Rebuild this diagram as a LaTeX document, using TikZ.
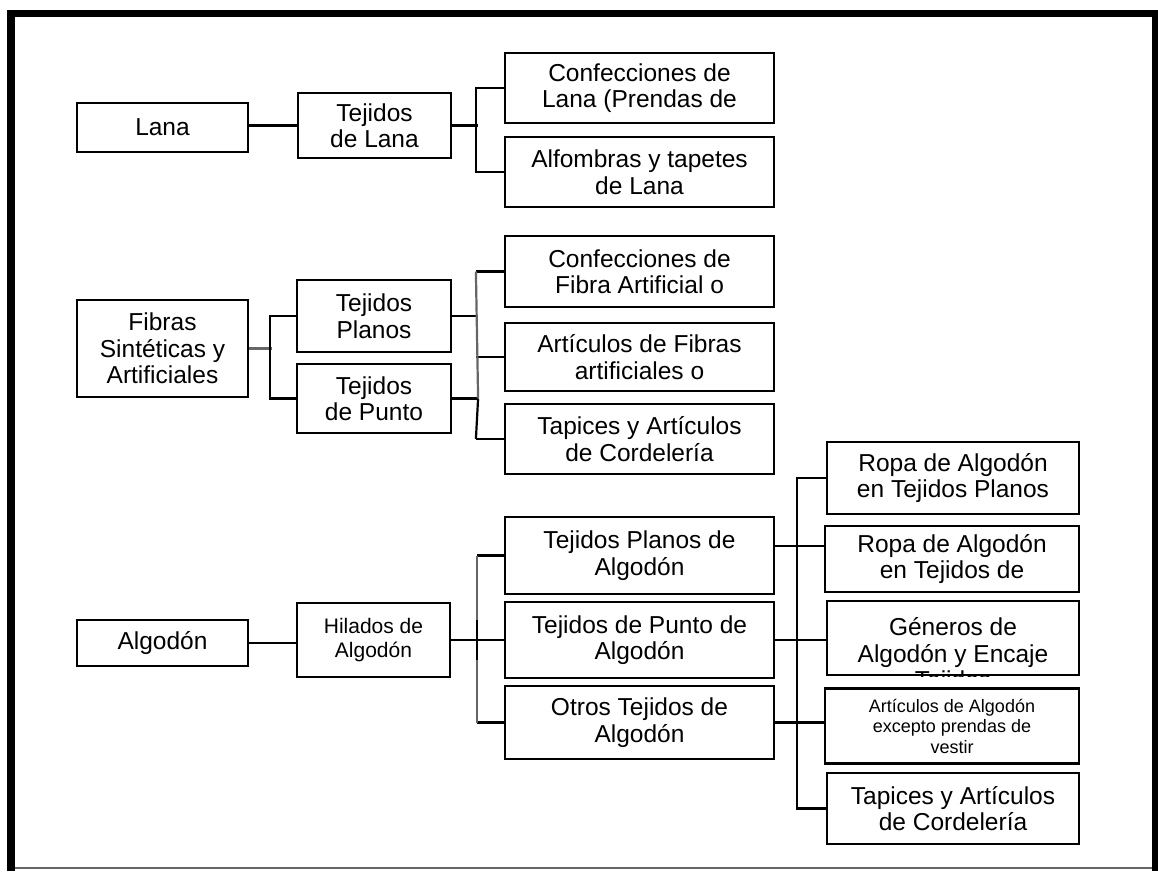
\documentclass[tikz,border=0pt]{standalone}
\usepackage{fontspec}
\setmainfont{Liberation Sans}
\begin{document}
\begin{tikzpicture}[x=1pt,y=-1pt,
  box/.style={draw=black, line width=2.2pt, inner sep=0pt, align=center,
    font=\fontsize{24.5}{26.5}\selectfont},
  wh/.style 2 args={minimum width=#1pt, minimum height=#2pt},
  link/.style={draw=black, line width=2.2pt},
  glink/.style={draw=black!60, line width=2.2pt}]
\useasboundingbox (0,0) rectangle (1158,871);
\fill[white] (0,0) rectangle (1158,871);
% frame
\fill[black] (7,10) rectangle (1158,17);
\fill[black] (7,10) rectangle (15,871);
\fill[black] (1152,10) rectangle (1158,871);
\draw[black!60, line width=1.5pt] (15,868) -- (1152,868);

% Lana group
\node[box, wh={171}{49}] (lana) at (162.5,127.5) {Lana};
\node[box, wh={153}{65}] (tlana) at (374.5,125.5) {Tejidos\\de Lana};
\node[box, wh={269}{70}] (clana) at (639.5,88) {Confecciones de\\Lana (Prendas de};
\node[box, wh={269}{70}] (alf) at (639.5,172) {Alfombras y tapetes\\de Lana};

% Fibras group
\node[box, wh={171}{97}] (fibras) at (162.5,348.5) {Fibras\\Sintéticas y\\Artificiales};
\node[box, wh={154}{72}] (tplanos) at (374,316) {Tejidos\\Planos};
\node[box, wh={154}{69}] (tpunto) at (374,398.5) {Tejidos\\de Punto};
\node[box, wh={269}{71}] (cfibra) at (639.5,271.5) {Confecciones de\\Fibra Artificial o};
\node[box, wh={269}{68}] (afibra) at (639.5,357) {Artículos de Fibras\\artificiales o};
\node[box, wh={269}{70}] (tap1) at (639.5,439) {Tapices y Artículos\\de Cordelería};

% Algodon group
\node[box, wh={171}{46}] (algodon) at (162.5,643) {Algodón};
\node[box, wh={153}{74}, font=\fontsize{21}{24}\selectfont] (hilados) at (373.5,640) {Hilados de\\Algodón};
\node[box, wh={269}{77}] (tpa) at (639.5,555.5) {Tejidos Planos de\\Algodón};
\node[box, wh={269}{76}] (tpua) at (639.5,640) {Tejidos de Punto de\\Algodón};
\node[box, wh={269}{73}] (otros) at (639.5,722.5) {Otros Tejidos de\\Algodón};
\node[box, wh={252}{72}] (ropa1) at (953,478) {Ropa de Algodón\\en Tejidos Planos};
\node[box, wh={254}{66}] (ropa2) at (952,559) {Ropa de Algodón\\en Tejidos de};
\node[box, wh={252}{74}] (generos) at (953,638) {};
\begin{scope}
  \clip (generos.south west) rectangle (generos.north east);
  \node[inner sep=0pt, align=center, font=\fontsize{24.5}{26.5}\selectfont] (gentext) at (953,656) {Géneros de\\Algodón y Encaje\\Tejidos};
\end{scope}
\node[box, wh={254}{75}, font=\fontsize{18}{20.5}\selectfont] (artalg) at (952,726) {Artículos de Algodón\\excepto prendas de\\vestir};
\node[box, wh={252}{71}] (tap2) at (953,808.5) {Tapices y Artículos\\de Cordelería};

% connectors: Lana
\draw[link] (tlana.west -| lana.east) -- (tlana.west);
\draw[link] (tlana.east) -- ++(26,0);
\draw[link] (clana.west) -- ++(-28,0) |- (alf.west);

% connectors: Fibras
\draw[glink] (fibras.east) -- ++(23,0);
\draw[link] (tplanos.west) -- ++(-26,0) |- (tpunto.west);
\draw[link] (tplanos.east) -- ++(26,0) coordinate (fp);
\draw[link] (tpunto.east) -- ++(26,0) coordinate (fq);
\draw[link] (cfibra.west) -- ++(-28,0) coordinate (f1);
\draw[link] (afibra.west) -- ++(-28,0) coordinate (f2);
\draw[link] (tap1.west) -- ++(-28,0) coordinate (f3);
\draw[glink] (f1) -- (fq);
\draw[link] (fq) -- (f3);

% connectors: Algodon
\draw[link] (algodon.east) -- (algodon.east -| hilados.west);
\draw[link] (hilados.east) -- ++(28,0);
\draw[link] (tpa.west) -- ++(-27,0) coordinate (h1);
\draw[link] (tpua.west) -- ++(-27,0) coordinate (h2);
\draw[link] (otros.west) -- ++(-27,0) coordinate (h3);
\draw[glink] (h1) -- (h3);
\draw[link] ([yshift=-20pt]h2) -- ([yshift=20pt]h2);

\coordinate (tpaout) at ([yshift=9.5pt]tpa.east);
\draw[link] (tpaout) -- (tpaout -| ropa2.west);
\draw[link] (tpua.east) -- (tpua.east -| generos.west);
\draw[link] (otros.east) -- (otros.east -| artalg.west);
\draw[link] (ropa1.west) -- ++(-29,0) |- (tap2.west);
\end{tikzpicture}
\end{document}
